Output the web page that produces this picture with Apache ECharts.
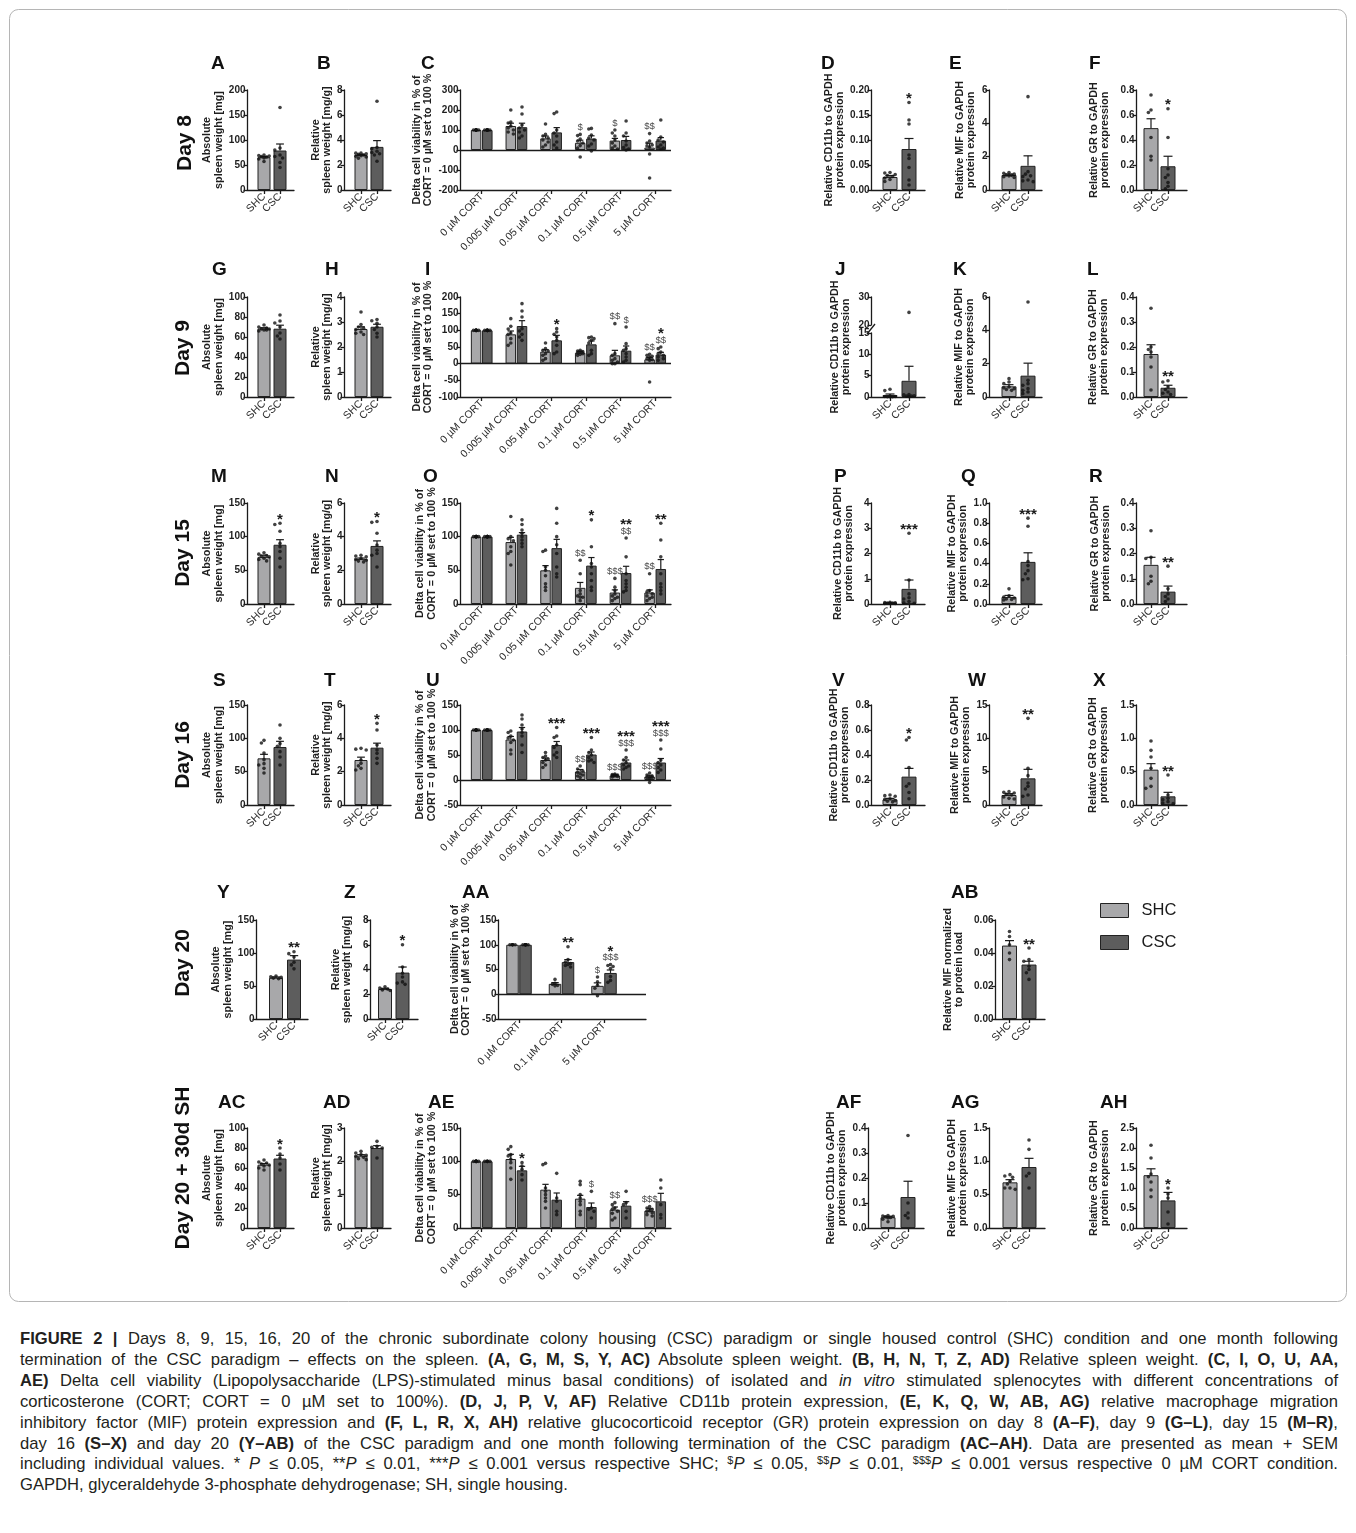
<!DOCTYPE html>
<html>
<head>
<meta charset="utf-8">
<script src="https://cdn.jsdelivr.net/npm/echarts@6/dist/echarts.min.js"></script>
<style>
  html, body { margin: 0; padding: 0; background: #ffffff; }
  #fig { position: absolute; left: 0; top: 0; width: 1356px; height: 1310px; }
  #caption {
    position: absolute; left: 20px; top: 1329px; width: 1318px;
    font-family: 'Liberation Sans', Arial, Helvetica, sans-serif;
    font-size: 16.6px; line-height: 20.9px; color: #231f20;
  }
  #caption div { text-align: justify; text-align-last: justify; }
  #caption div.last { text-align-last: left; }
  #caption sup { font-size: 66%; vertical-align: baseline; position: relative; top: -0.5em; line-height: 0; }
</style>
</head>
<body>
<div id="fig"></div>
<div id="caption">
  <div><b>FIGURE 2 |</b> Days 8, 9, 15, 16, 20 of the chronic subordinate colony housing (CSC) paradigm or single housed control (SHC) condition and one month following</div>
  <div>termination of the CSC paradigm – effects on the spleen. <b>(A, G, M, S, Y, AC)</b> Absolute spleen weight. <b>(B, H, N, T, Z, AD)</b> Relative spleen weight. <b>(C, I, O, U, AA,</b></div>
  <div><b>AE)</b> Delta cell viability (Lipopolysaccharide (LPS)-stimulated minus basal conditions) of isolated and <i>in vitro</i> stimulated splenocytes with different concentrations of</div>
  <div>corticosterone (CORT; CORT = 0 µM set to 100%). <b>(D, J, P, V, AF)</b> Relative CD11b protein expression, <b>(E, K, Q, W, AB, AG)</b> relative macrophage migration</div>
  <div>inhibitory factor (MIF) protein expression and <b>(F, L, R, X, AH)</b> relative glucocorticoid receptor (GR) protein expression on day 8 <b>(A–F)</b>, day 9 <b>(G–L)</b>, day 15 <b>(M–R)</b>,</div>
  <div>day 16 <b>(S–X)</b> and day 20 <b>(Y–AB)</b> of the CSC paradigm and one month following termination of the CSC paradigm <b>(AC–AH)</b>. Data are presented as mean + SEM</div>
  <div>including individual values. * <i>P</i> ≤ 0.05, **<i>P</i> ≤ 0.01, ***<i>P</i> ≤ 0.001 versus respective SHC; <sup>$</sup><i>P</i> ≤ 0.05, <sup>$$</sup><i>P</i> ≤ 0.01, <sup>$$$</sup><i>P</i> ≤ 0.001 versus respective 0 µM CORT condition.</div>
  <div class="last">GAPDH, glyceraldehyde 3-phosphate dehydrogenase; SH, single housing.</div>
</div>
<script>
// ===================== data =====================
// Two-group panels: [SHC, CSC] means and SEMs, individual values per group,
// significance marks per group ('|' separates stacked marks, top first).
const PAIR = ['SHC', 'CSC'];
const DOSES = ['0 µM CORT', '0.005 µM CORT', '0.05 µM CORT', '0.1 µM CORT', '0.5 µM CORT', '5 µM CORT'];
const DOSES_D20 = ['0 µM CORT', '0.1 µM CORT', '5 µM CORT'];

// ---- Day 8 ----
const A_mean = [65.5, 79];   const A_sem = [1.5, 13];
const A_shc = [70, 69, 68, 67, 66, 64, 62, 57];
const A_csc = [165, 84, 80, 70, 67, 64, 55, 45];
const A_sig = ['', ''];

const B_mean = [2.8, 3.45];  const B_sem = [0.05, 0.5];
const B_shc = [2.95, 2.95, 2.9, 2.85, 2.8, 2.75, 2.7, 2.65, 2.55];
const B_csc = [7.1, 3.4, 3.3, 3.1, 3.0, 2.9, 2.8, 2.3];
const B_sig = ['', ''];

const C_shcMean = [100, 120, 58, 36, 47, 12];
const C_shcSem  = [0, 14, 12, 13, 11, 22];
const C_cscMean = [100, 114, 88, 57, 50, 47];
const C_cscSem  = [0, 20, 24, 14, 18, 15];
const C_shcPts = [
  [100, 100, 100, 100, 100, 100, 100, 100],
  [200, 140, 135, 120, 110, 100, 90, 80],
  [130, 78, 70, 60, 50, 40, 25, 15],
  [78, 72, 55, 45, 35, 22, 10, -35],
  [100, 85, 70, 50, 35, 20, 10, 5],
  [82, 45, 35, 25, 20, 15, -20, -140]
];
const C_cscPts = [
  [100, 100, 100, 100, 100, 100, 100, 100],
  [215, 180, 125, 110, 100, 90, 70, 60],
  [190, 182, 100, 85, 70, 40, 25, 10],
  [108, 105, 75, 60, 50, 30, 20, -5],
  [145, 85, 70, 45, 25, 12, 5, 0],
  [150, 65, 50, 40, 25, 15, 10, 5]
];
const C_shcSig = ['', '', '', '$', '$', '$$'];
const C_cscSig = ['', '', '', '', '', ''];

const D_mean = [0.026, 0.082]; const D_sem = [0.003, 0.021];
const D_shc = [0.035, 0.034, 0.031, 0.029, 0.027, 0.024, 0.021, 0.017];
const D_csc = [0.175, 0.14, 0.132, 0.07, 0.063, 0.045, 0.02, 0.01];
const D_sig = ['', '*'];

const E_mean = [0.9, 1.45];    const E_sem = [0.06, 0.6];
const E_shc = [1.05, 1.0, 0.95, 0.9, 0.88, 0.85, 0.8, 0.75];
const E_csc = [5.6, 1.1, 0.95, 0.85, 0.8, 0.6, 0.55, 0.5];
const E_sig = ['', ''];

const F_mean = [0.495, 0.19];  const F_sem = [0.075, 0.08];
const F_shc = [0.76, 0.64, 0.62, 0.42, 0.27, 0.24];
const F_csc = [0.65, 0.42, 0.17, 0.12, 0.1, 0.06, 0.03, 0.01];
const F_sig = ['', '*'];

// ---- Day 9 ----
const G_mean = [68.5, 68.3];   const G_sem = [0.8, 3.5];
const G_shc = [72, 70, 69, 68, 68, 67, 66, 67];
const G_csc = [82, 76, 74, 70, 64, 61, 58];
const G_sig = ['', ''];

const H_mean = [2.72, 2.81];   const H_sem = [0.09, 0.1];
const H_shc = [3.4, 2.9, 2.8, 2.75, 2.7, 2.6, 2.55, 2.5];
const H_csc = [3.1, 3.05, 2.95, 2.8, 2.7, 2.55, 2.4];
const H_sig = ['', ''];

const I_shcMean = [100, 88, 36, 33, 25, 13];
const I_shcSem  = [0, 10, 6, 4, 15, 6];
const I_cscMean = [100, 113, 70, 58, 39, 27];
const I_cscSem  = [0, 16, 15, 10, 14, 7];
const I_shcPts = [
  [100, 100, 100, 100, 100, 100, 100, 100],
  [135, 112, 104, 92, 88, 75, 62, 55],
  [62, 45, 40, 38, 30, 25, 15, 10],
  [40, 38, 36, 35, 32, 30, 28, 25],
  [120, 30, 25, 15, 10, 5, 0, 0],
  [28, 25, 22, 18, 15, 12, 10, -55]
];
const I_cscPts = [
  [100, 100, 100, 100, 100, 100, 100],
  [180, 158, 140, 105, 98, 88, 80, 70],
  [105, 95, 88, 80, 70, 55, 35, 30],
  [80, 78, 75, 70, 62, 40, 30, 25],
  [110, 60, 45, 40, 30, 20, 10, 5],
  [50, 45, 35, 30, 25, 20, 15, 10]
];
const I_shcSig = ['', '', '', '', '$$', '$$'];
const I_cscSig = ['', '', '*', '', '$', '*|$$'];

const J_mean = [0.45, 3.8];    const J_sem = [0.25, 3.4];
const J_shc = [1.8, 1.5, 0.2, 0.1, 0.1, 0.05, 0.05, 0.05];
const J_csc = [24.5, 0.6, 0.5, 0.3, 0.2, 0.2, 0.1];

const K_mean = [0.64, 1.28];   const K_sem = [0.1, 0.75];
const K_shc = [1.1, 0.9, 0.8, 0.6, 0.55, 0.5, 0.45, 0.4];
const K_csc = [5.7, 1.0, 0.8, 0.7, 0.5, 0.4, 0.3, 0.2];
const K_sig = ['', ''];

const L_mean = [0.172, 0.037]; const L_sem = [0.037, 0.01];
const L_shc = [0.355, 0.2, 0.19, 0.18, 0.16, 0.12, 0.028];
const L_csc = [0.065, 0.06, 0.04, 0.03, 0.02, 0.015, 0.01];
const L_sig = ['', '**'];

// ---- Day 15 ----
const M_mean = [70, 88];       const M_sem = [2.5, 7.5];
const M_shc = [76, 74, 72, 71, 70, 68, 66, 64];
const M_csc = [120, 118, 108, 90, 85, 78, 68, 55];
const M_sig = ['', '*'];

const N_mean = [2.68, 3.45];   const N_sem = [0.05, 0.3];
const N_shc = [2.9, 2.85, 2.8, 2.7, 2.65, 2.6, 2.55, 2.5];
const N_csc = [4.9, 4.85, 4.2, 3.5, 3.2, 3.0, 2.9, 2.2];
const N_sig = ['', '*'];

const O_shcMean = [100, 92, 50, 24, 17, 17];
const O_shcSem  = [0, 7, 7, 8, 4, 4];
const O_cscMean = [100, 103, 83, 57, 46, 52];
const O_cscSem  = [0, 3, 13, 12, 10, 14];
const O_shcPts = [
  [100, 100, 100, 100, 100, 100, 100, 100],
  [130, 100, 97, 94, 85, 78, 75, 58],
  [80, 78, 55, 50, 42, 30, 25, 20],
  [65, 45, 20, 15, 12, 10, 10, 5],
  [38, 25, 20, 15, 12, 10, 8, 5],
  [45, 20, 18, 15, 12, 10, 8, 5]
];
const O_cscPts = [
  [100, 100, 100, 100, 100, 100, 100, 100],
  [125, 118, 110, 105, 100, 95, 90, 85],
  [142, 120, 100, 88, 75, 55, 45, 40],
  [125, 85, 60, 55, 45, 35, 25, 20],
  [98, 70, 45, 35, 30, 25, 20, 18],
  [120, 95, 70, 45, 30, 25, 20, 15]
];
const O_shcSig = ['', '', '', '$$', '$$$', '$$'];
const O_cscSig = ['', '', '', '*', '**|$$', '**'];

const P_mean = [0.04, 0.6];    const P_sem = [0.01, 0.35];
const P_shc = [0.07, 0.06, 0.05, 0.04, 0.04, 0.03, 0.02, 0.02];
const P_csc = [2.8, 0.95, 0.4, 0.25, 0.2, 0.1, 0.05, 0.03];
const P_sig = ['', '***'];

const Q_mean = [0.07, 0.417];  const Q_sem = [0.015, 0.09];
const Q_shc = [0.15, 0.08, 0.07, 0.06, 0.05, 0.045, 0.04];
const Q_csc = [0.85, 0.77, 0.42, 0.38, 0.33, 0.3, 0.25, 0.24];
const Q_sig = ['', '***'];

const R_mean = [0.155, 0.049]; const R_sem = [0.03, 0.022];
const R_shc = [0.29, 0.185, 0.18, 0.11, 0.09, 0.08];
const R_csc = [0.15, 0.06, 0.04, 0.03, 0.02, 0.01];
const R_sig = ['', '**'];

// ---- Day 16 ----
const S_mean = [70, 87];       const S_sem = [6, 8.5];
const S_shc = [97, 93, 78, 68, 62, 60, 55, 48];
const S_csc = [120, 100, 92, 88, 80, 72, 60];
const S_sig = ['', ''];

const T_mean = [2.7, 3.44];    const T_sem = [0.17, 0.27];
const T_shc = [3.4, 3.35, 3.3, 2.7, 2.5, 2.35, 2.2, 2.1];
const T_csc = [4.9, 4.5, 3.6, 3.3, 3.1, 2.8, 2.5];
const T_sig = ['', '*'];

const U_shcMean = [100, 81, 40, 17, 9, 7];
const U_shcSem  = [0, 6, 4, 4, 1.5, 2.5];
const U_cscMean = [100, 97, 70, 51, 35, 35];
const U_cscSem  = [0, 8, 7, 5, 5, 8];
const U_shcPts = [
  [100, 100, 100, 100, 100, 100, 100, 100],
  [98, 95, 88, 84, 80, 75, 60, 52],
  [55, 48, 45, 42, 40, 35, 30, 25],
  [28, 22, 18, 15, 12, 10, 8, 5],
  [12, 11, 10, 10, 9, 8, 7, 6],
  [14, 10, 8, 6, 5, 5, 3, -5]
];
const U_cscPts = [
  [100, 100, 100, 100, 100, 100, 100, 100],
  [130, 122, 110, 102, 95, 88, 70, 55],
  [105, 88, 85, 70, 65, 55, 50, 45],
  [85, 60, 55, 50, 45, 40, 38, 35],
  [60, 45, 40, 35, 30, 28, 25, 22],
  [80, 62, 40, 35, 30, 25, 20, 15]
];
const U_shcSig = ['', '', '', '$$', '$$$', '$$$'];
const U_cscSig = ['', '', '***', '***', '***|$$$', '***|$$$'];

const V_mean = [0.045, 0.227]; const V_sem = [0.008, 0.066];
const V_shc = [0.08, 0.075, 0.07, 0.05, 0.045, 0.035, 0.03, 0.025];
const V_csc = [0.54, 0.52, 0.3, 0.17, 0.15, 0.1, 0.05];
const V_sig = ['', '*'];

const W_mean = [1.5, 4.0];     const W_sem = [0.2, 1.35];
const W_shc = [2.0, 1.9, 1.8, 1.6, 1.5, 1.2, 1.0, 0.9];
const W_csc = [13, 5.5, 4.4, 3.3, 2.8, 2.4, 1.5, 1.3];
const W_sig = ['', '**'];

const X_mean = [0.53, 0.13];   const X_sem = [0.09, 0.06];
const X_shc = [0.96, 0.82, 0.72, 0.55, 0.4, 0.28, 0.25];
const X_csc = [0.45, 0.15, 0.1, 0.08, 0.05, 0.03, 0.02];
const X_sig = ['', '**'];

// ---- Day 20 ----
const Y_mean = [62.5, 90];     const Y_sem = [1.2, 6];
const Y_shc = [65, 64, 63, 62, 61];
const Y_csc = [102, 99, 94, 86, 82, 76];
const Y_sig = ['', '**'];

const Z_mean = [2.42, 3.75];   const Z_sem = [0.06, 0.45];
const Z_shc = [2.6, 2.5, 2.42, 2.35, 2.3];
const Z_csc = [6.0, 4.2, 3.7, 3.4, 3.0, 2.9, 2.8];
const Z_sig = ['', '*'];

const AA_shcMean = [100, 21, 17];
const AA_shcSem  = [0, 2.5, 6];
const AA_cscMean = [100, 65, 43];
const AA_cscSem  = [0, 5, 6];
const AA_shcPts = [
  [100, 100, 100, 100, 100],
  [30, 22, 20, 18, 17],
  [35, 25, 18, 12, -3]
];
const AA_cscPts = [
  [100, 100, 100, 100, 100, 100, 100],
  [96, 70, 65, 62, 60, 58, 55],
  [60, 58, 56, 52, 36, 28, 24]
];
const AA_shcSig = ['', '', '$'];
const AA_cscSig = ['', '**', '*|$$$'];

const AB_mean = [0.0445, 0.033]; const AB_sem = [0.003, 0.002];
const AB_shc = [0.053, 0.05, 0.045, 0.04, 0.036];
const AB_csc = [0.043, 0.036, 0.035, 0.032, 0.03, 0.028, 0.024];
const AB_sig = ['', '**'];

// ---- Day 20 + 30d SH ----
const AC_mean = [63.3, 69.5];  const AC_sem = [1.2, 3.2];
const AC_shc = [68, 66, 65, 64, 63, 62, 60, 58];
const AC_csc = [80, 74, 70, 64, 58];
const AC_sig = ['', '*'];

const AD_mean = [2.17, 2.4];   const AD_sem = [0.03, 0.07];
const AD_shc = [2.3, 2.25, 2.2, 2.18, 2.15, 2.12, 2.08, 2.05];
const AD_csc = [2.6, 2.45, 2.42, 2.4, 2.1];
const AD_sig = ['', ''];

const AE_shcMean = [100, 103.5, 57.5, 44, 27.5, 26];
const AE_shcSem  = [0, 7, 8, 5, 4, 3];
const AE_cscMean = [100, 86.5, 42.5, 31.5, 33.5, 40];
const AE_cscSem  = [0, 6, 10, 6, 6, 12];
const AE_shcPts = [
  [100, 100, 100, 100, 100, 100, 100, 100],
  [122, 118, 110, 108, 103, 98, 90, 73],
  [97, 95, 60, 55, 50, 45, 40, 30],
  [70, 65, 50, 45, 40, 35, 25, 20],
  [38, 35, 30, 28, 25, 22, 15, 12],
  [32, 30, 28, 26, 25, 23, 20, 18]
];
const AE_cscPts = [
  [100, 100, 100, 100, 100],
  [98, 93, 88, 80, 72],
  [82, 45, 40, 25, 20],
  [55, 30, 28, 25, 15],
  [55, 38, 35, 25, 15],
  [72, 60, 35, 20, 15]
];
const AE_shcSig = ['', '', '', '', '$$', '$$$'];
const AE_cscSig = ['', '*', '', '$', '', ''];

const AF_mean = [0.043, 0.124]; const AF_sem = [0.004, 0.063];
const AF_shc = [0.05, 0.048, 0.047, 0.045, 0.042, 0.04, 0.035, 0.025];
const AF_csc = [0.37, 0.1, 0.06, 0.05, 0.04];
const AF_sig = ['', ''];

const AG_mean = [0.685, 0.915]; const AG_sem = [0.04, 0.13];
const AG_shc = [0.8, 0.78, 0.76, 0.7, 0.66, 0.6, 0.6, 0.58];
const AG_csc = [1.32, 1.18, 0.82, 0.78, 0.6];
const AG_sig = ['', ''];

const AH_mean = [1.32, 0.69];  const AH_sem = [0.16, 0.2];
const AH_shc = [2.07, 1.75, 1.35, 1.28, 1.15, 0.95, 0.78];
const AH_csc = [1.0, 0.85, 0.75, 0.4, 0.1];
const AH_sig = ['', '*'];

// ===================== layout & style =====================
const FONT = "'Liberation Sans', Arial, Helvetica, sans-serif";
const INK = '#1b1b1b';
const FILL = { SHC: '#a8a8aa', CSC: '#5d5d5d' };
const TICK_FS = 10;
const TICK_LEN = 3.5;
const LABEL_MARGIN = 1.5;

// column geometry: axis x, plot width, first-bar centre offset, spacing between
// positions, bar width, preferred distance from axis to the axis title
const LAY = {
  abs: { left: 247, width: 47, c0: 17, step: 16, bw: 13, gap: 16 },
  rel: { left: 344, width: 47, c0: 17, step: 16, bw: 13, gap: 10.5 },
  via: { left: 460, width: 211, c0: 21.7, step: 34.7, off: 5.6, bw: 10.5, gap: 19 },
  cd:  { left: 871, width: 54, c0: 19, step: 19, bw: 15, gap: 20 },
  mif: { left: 989, width: 53, c0: 20, step: 19, bw: 15, gap: 14 },
  gr:  { left: 1136, width: 51, c0: 15, step: 17, bw: 15, gap: 25 },
  y20: { left: 256, width: 52, c0: 20, step: 18, bw: 14, gap: 14 },
  z20: { left: 370, width: 48, c0: 15, step: 17.5, bw: 14, gap: 17 },
  aa:  { left: 498, width: 148, c0: 21, step: 42.5, off: 6.5, bw: 12.5, gap: 26 },
  ab:  { left: 995, width: 50, c0: 14.5, step: 19.5, bw: 15, gap: 30 },
  af:  { left: 868, width: 56, c0: 20, step: 20, bw: 15, gap: 19 },
  ag:  { left: 989, width: 56, c0: 21, step: 19, bw: 15, gap: 19 }
};
const ROW = [[90, 190], [297, 397], [503, 604], [705, 805], [920, 1019], [1128, 1228]];

const T_ABS = 'Absolute\nspleen weight [mg]';
const T_REL = 'Relative\nspleen weight [mg/g]';
const T_VIA = 'Delta cell viability in % of\nCORT = 0 µM set to 100 %';
const T_CD = 'Relative CD11b to GAPDH\nprotein expression';
const T_MIF = 'Relative MIF to GAPDH\nprotein expression';
const T_GR = 'Relative GR to GAPDH\nprotein expression';
const T_MIFN = 'Relative MIF normalized\nto protein load';

const option = {
  animation: false,
  backgroundColor: '#ffffff',
  textStyle: { fontFamily: FONT },
  grid: [], xAxis: [], yAxis: [], series: [], graphic: [],
  legend: {
    data: ['SHC', 'CSC'], orient: 'vertical', left: 1100, top: 902, padding: 0,
    itemWidth: 28, itemHeight: 14, itemGap: 15, icon: 'rect', selectedMode: false,
    itemStyle: { borderColor: '#222', borderWidth: 1 },
    textStyle: { fontSize: 16.5, color: '#1a1a1a', fontFamily: FONT, lineHeight: 16, padding: [0, 0, 0, 8] }
  }
};

const measure = (() => {
  const ctx = document.createElement('canvas').getContext('2d');
  return (txt, font) => { ctx.font = font; return ctx.measureText(txt).width; };
})();
const fmt = (v, dec) => (Math.abs(v) < 1e-12 ? 0 : v).toFixed(dec);

// one cartesian frame: value axes on both sides, x ticks at the group positions
function addFrame(lay, top, bottom, y, title, cats, opts) {
  opts = opts || {};
  const g = option.grid.length;
  const [yMin, yMax, yStep, dec] = y;
  option.grid.push({ left: lay.left, top: top, width: lay.width, height: bottom - top, outerBoundsMode: 'none', containLabel: false });
  const ticks = cats.map((_, i) => i);
  option.xAxis.push({
    gridIndex: g, type: 'value',
    min: -lay.c0 / lay.step, max: (lay.width - lay.c0) / lay.step,
    show: opts.hideX ? false : true,
    axisLine: { show: true, onZero: false, lineStyle: { color: INK, width: 1.3 } },
    axisTick: { show: true, customValues: ticks, length: 4, lineStyle: { color: INK, width: 1.3 } },
    axisLabel: { show: true, customValues: ticks, rotate: 45, margin: 5, fontSize: 10.5, color: '#2a2a2a', fontFamily: FONT,
                 formatter: v => cats[Math.round(v)] },
    splitLine: { show: false }
  });
  // keep the title clear of the widest tick label
  const nT = Math.round((yMax - yMin) / yStep);
  let lw = 0;
  for (let i = 0; i <= nT; i++) lw = Math.max(lw, measure(fmt(yMin + i * yStep, dec), 'bold ' + TICK_FS + 'px ' + FONT));
  const wanted = opts.gap != null ? opts.gap : lay.gap;
  const gap = Math.max(wanted, lw + TICK_LEN + LABEL_MARGIN + 1);
  const hideY = !!opts.nameOnly;
  option.yAxis.push({
    gridIndex: g, type: 'value', min: yMin, max: yMax, interval: yStep,
    name: title || '', nameLocation: 'middle', nameRotate: 90, nameGap: gap, nameMoveOverlap: false,
    nameTextStyle: { fontSize: 10.8, fontWeight: 'bold', color: '#1e1e1e', lineHeight: 11.2, fontFamily: FONT },
    axisLine: { show: !hideY, onZero: false, lineStyle: { color: INK, width: 1.3 } },
    axisTick: { show: !hideY, length: TICK_LEN, lineStyle: { color: INK, width: 1.3 } },
    axisLabel: { show: !hideY, margin: LABEL_MARGIN, fontSize: TICK_FS, fontWeight: 'bold', color: '#1e1e1e', fontFamily: FONT,
                 formatter: v => fmt(v, dec) },
    splitLine: { show: false }
  });
  return { g, lay, top, bottom, y };
}

function addBars(f, grp, zeroLine) {
  const s = {
    type: 'bar', name: grp.name, xAxisIndex: f.g, yAxisIndex: f.g,
    barWidth: f.lay.bw, barGap: '-100%', silent: true, z: 2,
    data: grp.xs.map((x, i) => [x, grp.means[i]]),
    itemStyle: { color: FILL[grp.name], borderColor: '#222', borderWidth: 1 }
  };
  if (zeroLine) {
    s.markLine = { silent: true, symbol: ['none', 'none'], label: { show: false }, animation: false,
                   lineStyle: { color: INK, width: 1.3, type: 'solid' }, data: [{ yAxis: 0 }] };
  }
  option.series.push(s);
}

function addErrors(f, grp) {
  const hw = f.lay.bw * 0.3;
  option.series.push({
    type: 'custom', xAxisIndex: f.g, yAxisIndex: f.g, z: 4, silent: true,
    data: grp.xs.map((x, i) => [x, grp.means[i], grp.sems[i]]),
    renderItem: (params, api) => {
      const x = api.value(0), m = api.value(1), s = api.value(2);
      if (!(s > 0)) return null;
      const a = api.coord([x, m]), b = api.coord([x, m + s]);
      const st = { stroke: INK, lineWidth: 1.2, fill: null };
      return { type: 'group', children: [
        { type: 'line', shape: { x1: a[0], y1: a[1], x2: b[0], y2: b[1] }, style: st },
        { type: 'line', shape: { x1: b[0] - hw, y1: b[1], x2: b[0] + hw, y2: b[1] }, style: st }
      ] };
    }
  });
}

// spread overlapping points sideways inside the bar (column scatter)
function swarm(pys, bw) {
  const D = 3.3, stepX = 2.6, lim = bw / 2 - 1.2;
  const cands = [0];
  for (let k = 1; k * stepX <= lim + 1e-6; k++) cands.push(-k * stepX, k * stepX);
  const placed = [];
  return pys.map(py => {
    let best = 0, bestScore = -1;
    for (const c of cands) {
      let md = Infinity;
      for (const q of placed) md = Math.min(md, Math.hypot(c - q[0], py - q[1]));
      if (md >= D) { best = c; break; }
      if (md > bestScore) { bestScore = md; best = c; }
    }
    placed.push([best, py]);
    return best;
  });
}

function addDots(f, grp, range) {
  const ppu = (f.bottom - f.top) / (f.y[1] - f.y[0]);
  const data = [];
  grp.xs.forEach((x, i) => {
    const vals = grp.pts[i].filter(v => v >= range[0] && v <= range[1]);
    const offs = swarm(vals.map(v => v * ppu), f.lay.bw);
    vals.forEach((v, k) => data.push({ value: [x, v], symbolOffset: [offs[k], 0] }));
  });
  option.series.push({
    type: 'scatter', xAxisIndex: f.g, yAxisIndex: f.g, symbol: 'circle', symbolSize: 3.6,
    itemStyle: { color: '#111' }, data: data, z: 5, silent: true, clip: false
  });
}

function addSig(f, grp) {
  const items = [], labels = [];
  grp.xs.forEach((x, i) => {
    const s = grp.sigs[i];
    if (!s) return;
    const top = Math.max(grp.means[i] + grp.sems[i], ...grp.pts[i]);
    items.push([x, top]);
    labels.push(s.split('|'));
  });
  if (!items.length) return;
  option.series.push({
    type: 'custom', xAxisIndex: f.g, yAxisIndex: f.g, z: 6, silent: true, clip: false,
    data: items,
    renderItem: (params, api) => {
      const p = api.coord([api.value(0), api.value(1)]);
      const lines = labels[params.dataIndex];
      let y = p[1] - 2;
      const children = [];
      for (let k = lines.length - 1; k >= 0; k--) {
        const t = lines[k];
        const star = t[0] === '*';
        children.push({ type: 'text', style: {
          text: t, x: p[0], y: star ? y + 6 : y,
          fill: star ? '#1a1a1a' : '#4a4a4a',
          font: (star ? 'bold 15px ' : '9.5px ') + FONT,
          align: 'center', verticalAlign: 'bottom', textAlign: 'center', textVerticalAlign: 'bottom'
        } });
        y -= star ? 9 : 9.5;
      }
      return { type: 'group', children: children };
    }
  });
}

function drawPanel(f, groups, withZero) {
  groups.forEach((grp, k) => addBars(f, grp, withZero && k === 0));
  groups.forEach(grp => addErrors(f, grp));
  groups.forEach(grp => addDots(f, grp, [-Infinity, Infinity]));
  groups.forEach(grp => addSig(f, grp));
}

function pairPanel(lay, row, y, title, mean, sem, shc, csc, sig, gap) {
  const f = addFrame(lay, row[0], row[1], y, title, PAIR, { gap: gap });
  drawPanel(f, [
    { name: 'SHC', xs: [0], means: [mean[0]], sems: [sem[0]], pts: [shc], sigs: [sig[0]] },
    { name: 'CSC', xs: [1], means: [mean[1]], sems: [sem[1]], pts: [csc], sigs: [sig[1]] }
  ], y[0] < 0);
}

function dosePanel(lay, row, y, cats, sm, ss, sp, sg, cm, cs, cp, cg, gap) {
  const f = addFrame(lay, row[0], row[1], y, T_VIA, cats, { gap: gap });
  const off = lay.off / lay.step;
  drawPanel(f, [
    { name: 'SHC', xs: cats.map((_, i) => i - off), means: sm, sems: ss, pts: sp, sigs: sg },
    { name: 'CSC', xs: cats.map((_, i) => i + off), means: cm, sems: cs, pts: cp, sigs: cg }
  ], y[0] < 0);
}

// ---- Day 8 ----
pairPanel(LAY.abs, ROW[0], [0, 200, 50, 0], T_ABS, A_mean, A_sem, A_shc, A_csc, A_sig);
pairPanel(LAY.rel, ROW[0], [0, 8, 2, 0], T_REL, B_mean, B_sem, B_shc, B_csc, B_sig);
dosePanel(LAY.via, ROW[0], [-200, 300, 100, 0], DOSES, C_shcMean, C_shcSem, C_shcPts, C_shcSig, C_cscMean, C_cscSem, C_cscPts, C_cscSig, 22);
pairPanel(LAY.cd, ROW[0], [0, 0.2, 0.05, 2], T_CD, D_mean, D_sem, D_shc, D_csc, D_sig, 23);
pairPanel(LAY.mif, ROW[0], [0, 6, 2, 0], T_MIF, E_mean, E_sem, E_shc, E_csc, E_sig, 12);
pairPanel(LAY.gr, ROW[0], [0, 0.8, 0.2, 1], T_GR, F_mean, F_sem, F_shc, F_csc, F_sig);

// ---- Day 9 ----
pairPanel(LAY.abs, ROW[1], [0, 100, 20, 0], T_ABS, G_mean, G_sem, G_shc, G_csc, G_sig, 18);
pairPanel(LAY.rel, ROW[1], [0, 4, 1, 0], T_REL, H_mean, H_sem, H_shc, H_csc, H_sig);
dosePanel(LAY.via, ROW[1], [-100, 200, 50, 0], DOSES, I_shcMean, I_shcSem, I_shcPts, I_shcSig, I_cscMean, I_cscSem, I_cscPts, I_cscSig);
(function () {
  // CD11b day 9: y axis broken between 15 and 20
  const top = ROW[1][0], bot = ROW[1][1], upperBot = 325, lowerTop = 333;
  addFrame(LAY.cd, top, bot, [0, 30, 10, 0], T_CD, PAIR, { hideX: true, nameOnly: true, gap: 19 });
  const low = addFrame(LAY.cd, lowerTop, bot, [0, 15, 5, 0], '', PAIR);
  const up = addFrame(LAY.cd, top, upperBot, [20, 30, 10, 0], '', PAIR, { hideX: true });
  const groups = [
    { name: 'SHC', xs: [0], means: [J_mean[0]], sems: [J_sem[0]], pts: [J_shc], sigs: [''] },
    { name: 'CSC', xs: [1], means: [J_mean[1]], sems: [J_sem[1]], pts: [J_csc], sigs: [''] }
  ];
  groups.forEach(grp => addBars(low, grp, false));
  groups.forEach(grp => addErrors(low, grp));
  groups.forEach(grp => addDots(low, grp, [-Infinity, 15]));
  groups.forEach(grp => addDots(up, grp, [20, 30]));
  option.graphic.push({ type: 'line', silent: true,
    shape: { x1: LAY.cd.left - 4, y1: lowerTop + 1, x2: LAY.cd.left + 4, y2: upperBot - 1 },
    style: { stroke: INK, lineWidth: 1.3 } });
})();
pairPanel(LAY.mif, ROW[1], [0, 6, 2, 0], T_MIF, K_mean, K_sem, K_shc, K_csc, K_sig, 13);
pairPanel(LAY.gr, ROW[1], [0, 0.4, 0.1, 1], T_GR, L_mean, L_sem, L_shc, L_csc, L_sig, 26);

// ---- Day 15 ----
pairPanel(LAY.abs, ROW[2], [0, 150, 50, 0], T_ABS, M_mean, M_sem, M_shc, M_csc, M_sig, 17);
pairPanel(LAY.rel, ROW[2], [0, 6, 2, 0], T_REL, N_mean, N_sem, N_shc, N_csc, N_sig);
dosePanel(LAY.via, ROW[2], [0, 150, 50, 0], DOSES, O_shcMean, O_shcSem, O_shcPts, O_shcSig, O_cscMean, O_cscSem, O_cscPts, O_cscSig);
pairPanel(LAY.cd, ROW[2], [0, 4, 1, 0], T_CD, P_mean, P_sem, P_shc, P_csc, P_sig, 16);
pairPanel(LAY.mif, ROW[2], [0, 1, 0.2, 1], T_MIF, Q_mean, Q_sem, Q_shc, Q_csc, Q_sig, 16);
pairPanel(LAY.gr, ROW[2], [0, 0.4, 0.1, 1], T_GR, R_mean, R_sem, R_shc, R_csc, R_sig, 24);

// ---- Day 16 ----
pairPanel(LAY.abs, ROW[3], [0, 150, 50, 0], T_ABS, S_mean, S_sem, S_shc, S_csc, S_sig, 17);
pairPanel(LAY.rel, ROW[3], [0, 6, 2, 0], T_REL, T_mean, T_sem, T_shc, T_csc, T_sig);
dosePanel(LAY.via, ROW[3], [-50, 150, 50, 0], DOSES, U_shcMean, U_shcSem, U_shcPts, U_shcSig, U_cscMean, U_cscSem, U_cscPts, U_cscSig, 18);
pairPanel(LAY.cd, ROW[3], [0, 0.8, 0.2, 1], T_CD, V_mean, V_sem, V_shc, V_csc, V_sig);
pairPanel(LAY.mif, ROW[3], [0, 15, 5, 0], T_MIF, W_mean, W_sem, W_shc, W_csc, W_sig, 17);
pairPanel(LAY.gr, ROW[3], [0, 1.5, 0.5, 1], T_GR, X_mean, X_sem, X_shc, X_csc, X_sig, 26);

// ---- Day 20 ----
pairPanel(LAY.y20, ROW[4], [0, 150, 50, 0], T_ABS, Y_mean, Y_sem, Y_shc, Y_csc, Y_sig);
pairPanel(LAY.z20, ROW[4], [0, 8, 2, 0], T_REL, Z_mean, Z_sem, Z_shc, Z_csc, Z_sig);
dosePanel(LAY.aa, ROW[4], [-50, 150, 50, 0], DOSES_D20, AA_shcMean, AA_shcSem, AA_shcPts, AA_shcSig, AA_cscMean, AA_cscSem, AA_cscPts, AA_cscSig);
pairPanel(LAY.ab, ROW[4], [0, 0.06, 0.02, 2], T_MIFN, AB_mean, AB_sem, AB_shc, AB_csc, AB_sig);

// ---- Day 20 + 30d SH ----
pairPanel(LAY.abs, ROW[5], [0, 100, 20, 0], T_ABS, AC_mean, AC_sem, AC_shc, AC_csc, AC_sig, 18);
pairPanel(LAY.rel, ROW[5], [0, 3, 1, 0], T_REL, AD_mean, AD_sem, AD_shc, AD_csc, AD_sig);
dosePanel(LAY.via, ROW[5], [0, 150, 50, 0], DOSES, AE_shcMean, AE_shcSem, AE_shcPts, AE_shcSig, AE_cscMean, AE_cscSem, AE_cscPts, AE_cscSig, 18);
pairPanel(LAY.af, ROW[5], [0, 0.4, 0.1, 1], T_CD, AF_mean, AF_sem, AF_shc, AF_csc, AF_sig);
pairPanel(LAY.ag, ROW[5], [0, 1.5, 0.5, 1], T_MIF, AG_mean, AG_sem, AG_shc, AG_csc, AG_sig);
pairPanel(LAY.gr, ROW[5], [0, 2.5, 0.5, 1], T_GR, AH_mean, AH_sem, AH_shc, AH_csc, AH_sig);

// ---- panel letters, row labels, frame ----
const LETTERS = [
  ['A', 211, 64], ['B', 317, 64], ['C', 421, 64], ['D', 821, 64], ['E', 949, 64], ['F', 1089, 64],
  ['G', 212, 270], ['H', 325, 270], ['I', 425, 270], ['J', 835, 270], ['K', 953, 270], ['L', 1087, 270],
  ['M', 211, 477], ['N', 325, 477], ['O', 423, 477], ['P', 834, 477], ['Q', 961, 477], ['R', 1089, 477],
  ['S', 213, 681], ['T', 324, 681], ['U', 426, 681], ['V', 832, 681], ['W', 968, 681], ['X', 1093, 681],
  ['Y', 217, 893], ['Z', 344, 893], ['AA', 462, 893], ['AB', 951, 893],
  ['AC', 218, 1103], ['AD', 323, 1103], ['AE', 428, 1103], ['AF', 836, 1103], ['AG', 951, 1103], ['AH', 1100, 1103]
];
const ROW_LABELS = [
  ['Day 8', 185, 143], ['Day 9', 183, 348], ['Day 15', 183, 553],
  ['Day 16', 183, 755], ['Day 20', 183, 963], ['Day 20 + 30d SH', 183, 1168]
];
option.graphic.push({ type: 'rect', silent: true, z: -10,
  shape: { x: 9.5, y: 9.5, width: 1337, height: 1292, r: 9 },
  style: { fill: null, stroke: '#b5b5b5', lineWidth: 1 } });
LETTERS.forEach(([t, x, y]) => option.graphic.push({ type: 'text', silent: true, x: x, y: y,
  style: { text: t, fill: '#111', font: 'bold 19px ' + FONT,
           align: 'left', verticalAlign: 'middle', textAlign: 'left', textVerticalAlign: 'middle' } }));
ROW_LABELS.forEach(([t, x, y]) => option.graphic.push({ type: 'text', silent: true, x: x, y: y, rotation: Math.PI / 2,
  style: { text: t, fill: '#111', font: 'bold 21px ' + FONT,
           align: 'center', verticalAlign: 'middle', textAlign: 'center', textVerticalAlign: 'middle' } }));

const chart = echarts.init(document.getElementById('fig'), null, { renderer: 'canvas' });
chart.setOption(option);
</script>
</body>
</html>
